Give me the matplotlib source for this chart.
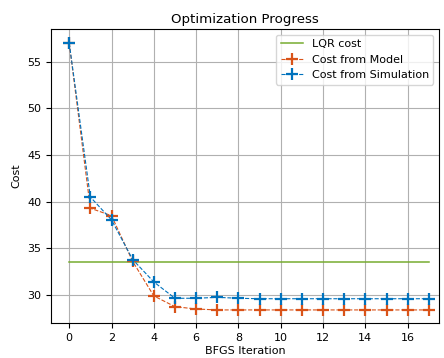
import numpy as np
import matplotlib
matplotlib.use("Agg")
import matplotlib.pyplot as plt

iters = np.arange(18)
cost_model = [57.0, 39.3, 38.5, 33.6, 29.9, 28.75, 28.5, 28.4, 28.4, 28.4,
              28.4, 28.4, 28.4, 28.4, 28.4, 28.4, 28.4, 28.4]
cost_sim = [57.0, 40.5, 38.05, 33.8, 31.4, 29.65, 29.65, 29.75, 29.65, 29.6,
            29.6, 29.6, 29.6, 29.6, 29.6, 29.6, 29.6, 29.6]
lqr_cost = 33.57

plt.rcParams["font.size"] = 8

fig = plt.figure(figsize=(4.44, 3.58), dpi=100)
ax = fig.add_axes([51 / 444, 1 - 323 / 358, 388 / 444, 294 / 358])

ax.plot([iters[0], iters[-1]], [lqr_cost, lqr_cost], color="#77AC30", lw=1.1, label="LQR cost")
ax.plot(iters, cost_model, "--", color="#D95319", lw=0.8, marker="+", ms=8.5, mew=1.6,
        label="Cost from Model")
ax.plot(iters, cost_sim, "--", color="#0072BD", lw=0.8, marker="+", ms=8.5, mew=1.6,
        label="Cost from Simulation")

ax.set_xticks(range(0, 17, 2))
ax.set_yticks([30, 35, 40, 45, 50, 55])
ax.set_ylim(27.0, 58.5)
ax.set_xlim(-0.86, 17.48)
ax.grid(True, color="#b0b0b0", lw=0.8)
ax.set_xlabel("BFGS Iteration", labelpad=2)
ax.set_ylabel("Cost")
ax.set_title("Optimization Progress", fontsize=9.6, pad=4)
ax.legend(loc="upper right", fontsize=8)

fig.savefig("out.png")
